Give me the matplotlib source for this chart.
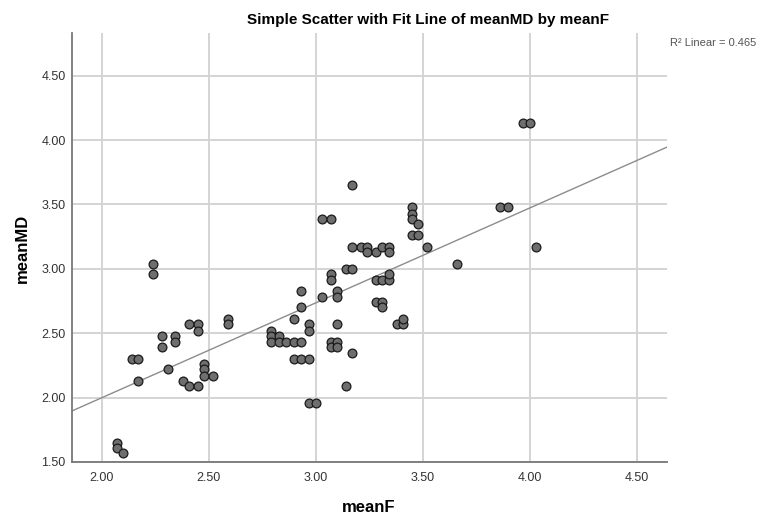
import matplotlib.pyplot as plt
import numpy as np

plt.rcParams['font.family'] = ['Liberation Sans', 'DejaVu Sans']

# data
meanF = [2.07, 2.07, 2.10, 2.14, 2.17, 2.17, 2.24, 2.24, 2.28, 2.28,
         2.31, 2.34, 2.34, 2.38, 2.41, 2.41, 2.45, 2.45, 2.45, 2.48,
         2.48, 2.48, 2.52, 2.59, 2.59, 2.79, 2.79, 2.79, 2.83, 2.83,
         2.86, 2.90, 2.93, 2.90, 2.93, 2.97, 2.93, 2.93, 2.90, 2.97,
         2.97, 2.97, 3.00, 3.03, 3.03, 3.07, 3.07, 3.07, 3.07, 3.07,
         3.10, 3.10, 3.10, 3.10, 3.10, 3.14, 3.17, 3.14, 3.17, 3.17,
         3.17, 3.21, 3.24, 3.24, 3.28, 3.31, 3.34, 3.34, 3.28, 3.31,
         3.34, 3.34, 3.28, 3.31, 3.31, 3.38, 3.41, 3.41, 3.45, 3.45,
         3.45, 3.48, 3.45, 3.48, 3.52, 3.66, 3.86, 3.90, 3.97, 4.00,
         4.03]
meanMD = [1.65, 1.61, 1.57, 2.30, 2.30, 2.13, 3.04, 2.96, 2.48, 2.39,
          2.22, 2.48, 2.43, 2.13, 2.09, 2.57, 2.57, 2.52, 2.09, 2.26,
          2.22, 2.17, 2.17, 2.61, 2.57, 2.52, 2.48, 2.43, 2.48, 2.43,
          2.43, 2.43, 2.43, 2.30, 2.30, 2.30, 2.83, 2.70, 2.61, 2.57,
          2.52, 1.96, 1.96, 2.78, 3.39, 3.39, 2.96, 2.91, 2.43, 2.39,
          2.43, 2.39, 2.83, 2.78, 2.57, 3.00, 3.00, 2.09, 2.35, 3.65,
          3.17, 3.17, 3.17, 3.13, 3.13, 3.17, 3.17, 3.13, 2.91, 2.91,
          2.91, 2.96, 2.74, 2.74, 2.70, 2.57, 2.57, 2.61, 3.48, 3.43,
          3.39, 3.35, 3.26, 3.26, 3.17, 3.04, 3.48, 3.48, 4.13, 4.13,
          3.17]

# fit line as drawn by SPSS
fit_intercept = 0.525
fit_slope = 0.737
r2_linear = 0.465

xticks = [2.00, 2.50, 3.00, 3.50, 4.00, 4.50]
yticks = [1.50, 2.00, 2.50, 3.00, 3.50, 4.00, 4.50]

fig = plt.figure(figsize=(7.59, 5.17), dpi=100)
ax = fig.add_axes([72/759, 1 - 462/517, (666.7-72)/759, (462-33)/517])

xmin, xmax = 1.861, 4.640
ax.set_xlim(xmin, xmax)
ax.set_ylim(1.50, 4.832)

ax.set_xticks(xticks)
ax.set_yticks(yticks)
ax.set_xticklabels(['%.2f' % v for v in xticks])
ax.set_yticklabels(['%.2f' % v for v in yticks])
ax.tick_params(length=0, labelsize=9, colors='#333333')
ax.tick_params(axis='y', pad=4.5)
ax.tick_params(axis='x', pad=7)
ax.grid(True, color='#d4d4d4', linewidth=1.4)
ax.set_axisbelow(True)

for s in ['top', 'right']:
    ax.spines[s].set_visible(False)
for s in ['left', 'bottom']:
    ax.spines[s].set_color('#777777')
    ax.spines[s].set_linewidth(1.3)

# fit line
xs = np.array([xmin, xmax])
ax.plot(xs, fit_intercept + fit_slope * xs, color='#8c8c8c', linewidth=1.0, zorder=2)

ax.scatter(meanF, meanMD, s=40, facecolor='#6e6e6e', edgecolor='#1a1a1a',
           linewidth=0.9, zorder=3)

fig.text(369/759, 1 - 507/517, 'meanF', ha='center', va='center',
         fontsize=12, fontweight='bold')
fig.text(22/759, 1 - 248/517, 'meanMD', ha='center', va='center',
         rotation=90, fontsize=12, fontweight='bold')
fig.text(428/759, 1 - 20/517, 'Simple Scatter with Fit Line of meanMD by meanF',
         ha='center', va='center', fontsize=11, fontweight='bold')
fig.text(670/759, 1 - 43/517, 'R\u00b2 Linear = %.3f' % r2_linear, ha='left',
         va='center', fontsize=8, color='#555555')

fig.savefig('out.png', dpi=100)
